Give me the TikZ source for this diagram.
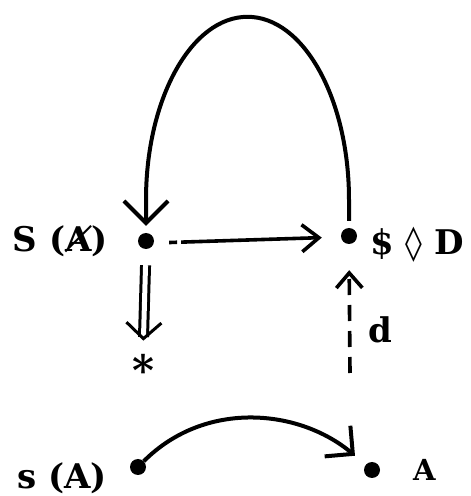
\documentclass[tikz,border=0pt]{standalone}
\usepackage{fontspec}
\setmainfont{DejaVu Serif}
\newfontfamily\symfont{DejaVu Sans}
\usetikzlibrary{arrows.meta}

\begin{document}
\begin{tikzpicture}[
  x=1pt,y=1pt,
  every node/.style={font=\fontsize{34}{40}\selectfont\bfseries},
  dot/.style={circle,fill=black,inner sep=0pt,minimum size=16pt},
  lbl/.style={inner sep=0pt},
  arr/.style={line width=3.6pt},
]
  \useasboundingbox (0,0) rectangle (471,496);

  % dots
  \node[dot] (dS) at (146,255) {};
  \node[dot] (dD) at (349,260) {};
  \node[dot] (ds) at (138,29) {};
  \node[dot] (dA) at (372,26) {};
  \coordinate (dfoot) at (350,123);

  % labels
  \node[lbl,anchor=base east] (lS) at (108,244) {S (Ⱥ)};
  \node[lbl,anchor=base west] (lD) at (370,241) {\$ {\symfont\bfseries ◊} D};
  \node[lbl,anchor=base,font=\fontsize{42}{44}\selectfont\bfseries] (star) at (143,110) {*};
  \node[lbl,anchor=base west] (ld) at (368,153) {d};
  \node[lbl,anchor=base west] (ls) at (17,8) {s (A)};
  \node[lbl,anchor=base west,font=\fontsize{29}{34}\selectfont\bfseries] (lA) at (413,16) {A};

  % big loop
  \draw[arr,line width=4pt,-{Straight Barb[length=22pt,width=44pt]},
        shorten <=7pt,shorten >=7pt]
    (dD.north) -- ++(0,28)
    arc[start angle=0,end angle=180,x radius=101.5,y radius=183] -- (dS.north);

  % S -> $D
  \draw[arr,dash pattern=on 8pt off 4pt on 300pt,
        -{Straight Barb[length=17pt,width=27pt]},shorten <=15pt,shorten >=19pt]
    ([yshift=-2pt]dS.east) -- ([yshift=-1pt]dD.west);

  % S => *
  \draw[arr,line width=3pt,double,double distance=5pt,
        -{Straight Barb[length=16pt,width=35pt]},shorten <=16pt,shorten >=14pt]
    (dS.south) -- (star.north);

  % d
  \draw[arr,dash pattern=on 16pt off 10pt,-{Straight Barb[length=15pt,width=26pt]},
        shorten >=26pt]
    (dfoot) -- (dD.south);

  % s(A) -> A
  \draw[arr,line width=4pt,-{Straight Barb[length=20pt,width=40pt]},shorten >=14pt]
    (ds) to[out=45,in=140] (dA);
\end{tikzpicture}
\end{document}
